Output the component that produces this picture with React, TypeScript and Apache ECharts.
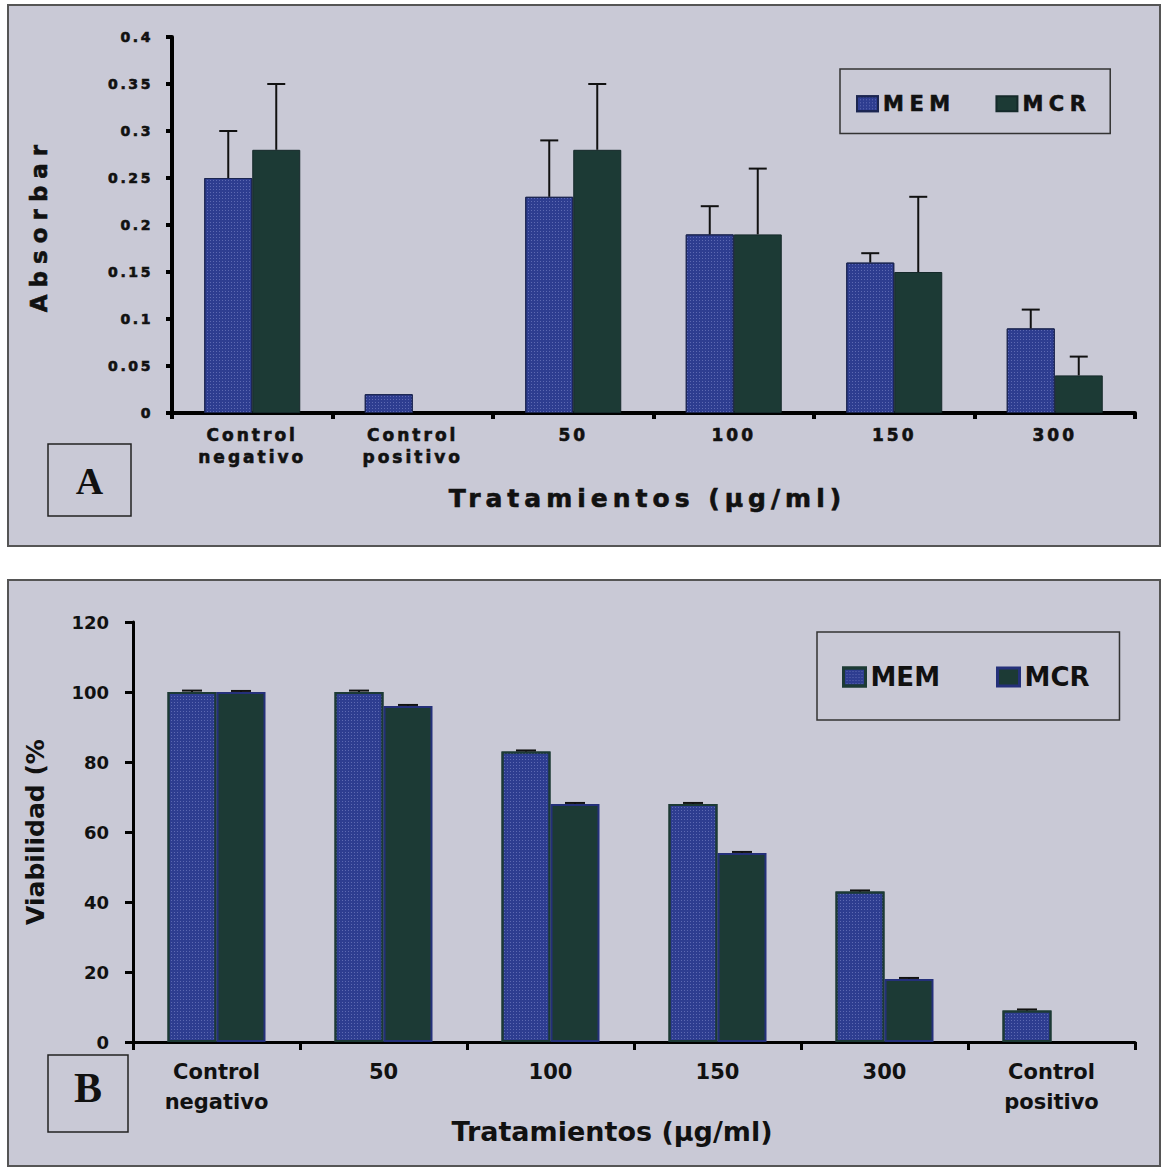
import React, { useEffect, useRef } from 'react';
import * as echarts from 'echarts';

// ---------- Data: panel A (absorbance) ----------
const categoriesA = ['Control\nnegativo', 'Control\npositivo', '50', '100', '150', '300'];
const memA = [0.25, 0.02, 0.23, 0.19, 0.16, 0.09];
const mcrA = [0.28, null, 0.28, 0.19, 0.15, 0.04];
const memAUpper = [0.3, null, 0.29, 0.22, 0.17, 0.11];
const mcrAUpper = [0.35, null, 0.35, 0.26, 0.23, 0.06];
const yMinA = 0;
const yMaxA = 0.4;
const yStepA = 0.05;

// ---------- Data: panel B (viability) ----------
const categoriesB = ['Control\nnegativo', '50', '100', '150', '300', 'Control\npositivo'];
const memB = [100, 100, 83, 68, 43, 9];
const mcrB = [100, 96, 68, 54, 18, null];
const memBUpper = [100.4, 100.4, 83.3, 68.3, 43.3, 9.3];
const mcrBUpper = [100.3, 96.3, 68.3, 54.3, 18.3, null];
const yMinB = 0;
const yMaxB = 120;
const yStepB = 20;

const seriesNames = ['MEM', 'MCR'];
const xTitle = 'Tratamientos (µg/ml)';
const yTitleA = 'Absorbar';
const yTitleB = 'Viabilidad (%';

const FA = 'DejaVu Sans, spacedA';
const FB = 'DejaVu Sans';
const SPACING: Record<number, number> = { 14: 2.6, 17: 3, 25: 5, 23: 7, 21: 5.5 };

const MEM_FILL = '#2e3d90';
const MCR_FILL = '#1c3a35';
const dots = {
  symbol: 'rect',
  symbolSize: 1,
  color: 'rgba(150,160,220,0.45)',
  dashArrayX: [1, 2],
  dashArrayY: [1, 2],
};

const errData = (vals: (number | null)[], up: (number | null)[]) =>
  vals
    .map((v, i) => (v == null || up[i] == null ? null : [i, v, up[i]]))
    .filter((d) => d !== null);

const makeErr = (side: number, bw: number, capHalf: number) => (params: any, api: any) => {
  const c = api.value(0);
  const v = api.value(1);
  const u = api.value(2);
  const p0 = api.coord([c, v]);
  const p1 = api.coord([c, u]);
  const x = p0[0] + (side * bw) / 2;
  const style = { stroke: '#111', lineWidth: 2 };
  return {
    type: 'group',
    children: [
      { type: 'line', shape: { x1: x, y1: p0[1], x2: x, y2: p1[1] }, style },
      { type: 'line', shape: { x1: x - capHalf, y1: p1[1], x2: x + capHalf, y2: p1[1] }, style },
    ],
  };
};

const applySpacing = (root: HTMLElement) => {
  root.querySelectorAll('text').forEach((t) => {
    const cs = getComputedStyle(t);
    if (!cs.fontFamily.includes('spacedA')) return;
    const fs = Math.round(parseFloat(cs.fontSize));
    const sp = SPACING[fs];
    if (sp) t.setAttribute('letter-spacing', String(sp));
  });
};

export default function App() {
  const ref = useRef<HTMLDivElement>(null);

  useEffect(() => {
    if (!ref.current) return;
    const chart = echarts.init(ref.current, undefined, { renderer: 'svg' });
    const textA = {
      fontWeight: 'bold' as const, fontFamily: FA, color: '#111',
      textBorderColor: '#111', textBorderWidth: 0.6,
    };
    const textB = { fontWeight: 'bold' as const, fontFamily: FB, color: '#111' };

    const option: any = {
      animation: false,
      backgroundColor: '#ffffff',
      graphic: {
        elements: [
          {
            type: 'rect', z: -10, silent: true,
            shape: { x: 8, y: 5, width: 1152, height: 541 },
            style: { fill: '#c9c9d6', stroke: '#555', lineWidth: 2 },
          },
          {
            type: 'rect', z: -10, silent: true,
            shape: { x: 8, y: 580, width: 1152, height: 586 },
            style: { fill: '#c9c9d6', stroke: '#555', lineWidth: 2 },
          },
          {
            type: 'rect', silent: true,
            shape: { x: 48, y: 444, width: 83, height: 72 },
            style: { fill: 'none', stroke: '#222', lineWidth: 1.5 },
          },
          {
            type: 'text', silent: true, x: 89.5, y: 481,
            style: { text: 'A', fontSize: 38, fontWeight: 'bold', fontFamily: 'Liberation Serif', fill: '#111', align: 'center', verticalAlign: 'middle' },
          },
          {
            type: 'rect', silent: true,
            shape: { x: 48, y: 1055, width: 80, height: 77 },
            style: { fill: 'none', stroke: '#222', lineWidth: 1.5 },
          },
          {
            type: 'text', silent: true, x: 88, y: 1088,
            style: { text: 'B', fontSize: 42, fontWeight: 'bold', fontFamily: 'Liberation Serif', fill: '#111', align: 'center', verticalAlign: 'middle' },
          },
        ],
      },
      legend: [
        {
          left: 840, top: 69, orient: 'horizontal',
          data: seriesNames,
          icon: 'rect', itemWidth: 21, itemHeight: 15, itemGap: 56,
          padding: [24, 35, 19, 16],
          borderColor: '#333', borderWidth: 1.5, backgroundColor: 'transparent',
          textStyle: { ...textA, fontSize: 21 },
          selectedMode: false,
        },
        {
          left: 817, top: 632, orient: 'horizontal',
          data: [
            { name: seriesNames[0], itemStyle: { color: MEM_FILL, borderColor: MCR_FILL, borderWidth: 3 } },
            { name: seriesNames[1], itemStyle: { color: MCR_FILL, borderColor: '#24307a', borderWidth: 3 } },
          ],
          icon: 'rect', itemWidth: 22, itemHeight: 18, itemGap: 56,
          padding: [32, 30, 30, 25],
          borderColor: '#333', borderWidth: 1.5, backgroundColor: 'transparent',
          textStyle: { ...textB, fontSize: 26 },
          selectedMode: false,
        },
      ],
      grid: [
        { left: 172, top: 37, width: 963, height: 376 },
        { left: 133, top: 622, width: 1002, height: 420 },
      ],
      xAxis: [
        {
          gridIndex: 0, type: 'category', data: categoriesA,
          axisLine: { lineStyle: { color: '#000', width: 4 } },
          axisTick: { show: true, length: 6, lineStyle: { color: '#000', width: 4 } },
          axisLabel: { interval: 0, margin: 11, fontSize: 17, lineHeight: 22, ...textA },
          name: xTitle, nameLocation: 'middle', nameGap: 73,
          nameTextStyle: { fontSize: 25, padding: [0, 12, 0, 0], ...textA },
        },
        {
          gridIndex: 1, type: 'category', data: categoriesB,
          axisLine: { lineStyle: { color: '#000', width: 3 } },
          axisTick: { show: true, length: 8, lineStyle: { color: '#000', width: 3 } },
          axisLabel: { interval: 0, margin: 15, fontSize: 21, lineHeight: 30, ...textB },
          name: xTitle, nameLocation: 'middle', nameGap: 54,
          nameTextStyle: { fontSize: 27, padding: [0, 44, 0, 0], ...textB },
        },
      ],
      yAxis: [
        {
          gridIndex: 0, type: 'value', min: yMinA, max: yMaxA, interval: yStepA,
          splitLine: { show: false },
          axisLine: { show: true, lineStyle: { color: '#000', width: 4 } },
          axisTick: { show: true, length: 6, lineStyle: { color: '#000', width: 4 } },
          axisLabel: { margin: 19, fontSize: 14, ...textA, formatter: (v: number) => String(Math.round(v * 100) / 100) },
          name: yTitleA, nameLocation: 'middle', nameGap: 122,
          nameTextStyle: { fontSize: 23, ...textA },
        },
        {
          gridIndex: 1, type: 'value', min: yMinB, max: yMaxB, interval: yStepB,
          splitLine: { show: false },
          axisLine: { show: true, lineStyle: { color: '#000', width: 3 } },
          axisTick: { show: true, length: 8, lineStyle: { color: '#000', width: 3 } },
          axisLabel: { margin: 24, fontSize: 18, ...textB },
          name: yTitleB, nameLocation: 'middle', nameGap: 85,
          nameTextStyle: { fontSize: 25, ...textB },
        },
      ],
      series: [
        {
          type: 'bar', name: seriesNames[0], xAxisIndex: 0, yAxisIndex: 0, data: memA,
          barWidth: 48, barGap: '0%',
          itemStyle: { color: MEM_FILL, borderColor: '#1b2550', borderWidth: 1, decal: dots },
        },
        {
          type: 'bar', name: seriesNames[1], xAxisIndex: 0, yAxisIndex: 0, data: mcrA,
          barWidth: 48, barGap: '0%',
          itemStyle: { color: MCR_FILL, borderColor: '#14292a', borderWidth: 1 },
        },
        {
          type: 'custom', name: 'errMEM_A', xAxisIndex: 0, yAxisIndex: 0, z: 5,
          data: errData(memA, memAUpper), encode: { x: 0, y: [1, 2] },
          renderItem: makeErr(-1, 48, 9),
        },
        {
          type: 'custom', name: 'errMCR_A', xAxisIndex: 0, yAxisIndex: 0, z: 5,
          data: errData(mcrA, mcrAUpper), encode: { x: 0, y: [1, 2] },
          renderItem: makeErr(1, 48, 9),
        },
        {
          type: 'bar', name: seriesNames[0], xAxisIndex: 1, yAxisIndex: 1, data: memB,
          barWidth: 49, barGap: '0%',
          itemStyle: { color: MEM_FILL, borderColor: MCR_FILL, borderWidth: 2, decal: dots },
        },
        {
          type: 'bar', name: seriesNames[1], xAxisIndex: 1, yAxisIndex: 1, data: mcrB,
          barWidth: 49, barGap: '0%',
          itemStyle: { color: MCR_FILL, borderColor: '#24307a', borderWidth: 2 },
        },
        {
          type: 'custom', name: 'errMEM_B', xAxisIndex: 1, yAxisIndex: 1, z: 5,
          data: errData(memB, memBUpper), encode: { x: 0, y: [1, 2] },
          renderItem: makeErr(-1, 49, 10),
        },
        {
          type: 'custom', name: 'errMCR_B', xAxisIndex: 1, yAxisIndex: 1, z: 5,
          data: errData(mcrB, mcrBUpper), encode: { x: 0, y: [1, 2] },
          renderItem: makeErr(1, 49, 10),
        },
      ],
    };

    chart.setOption(option);
    const el = ref.current;
    applySpacing(el);
    chart.on('finished', () => applySpacing(el));
    const t = setTimeout(() => applySpacing(el), 50);
    return () => {
      clearTimeout(t);
      chart.dispose();
    };
  }, []);

  return (
    <div
      ref={ref}
      style={{ position: 'absolute', left: 0, top: 0, width: 1162, height: 1172, background: '#fff' }}
    />
  );
}
